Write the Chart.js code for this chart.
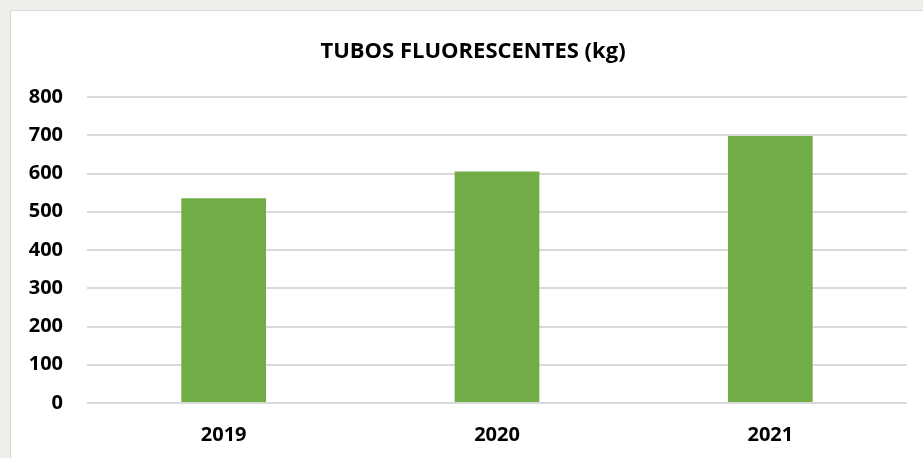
<!DOCTYPE html>
<html>
<head>
<meta charset="utf-8">
<script src="https://cdn.jsdelivr.net/npm/chart.js@4"></script>
<style>
  html, body { margin: 0; padding: 0; }
  body { width: 923px; height: 458px; background: #eeeeea; position: relative; overflow: hidden; }
  #box { position: absolute; left: 10px; top: 10px; width: 920px; height: 460px; background: #fff; border: 1px solid #d9d9d9; }
  #wrap { position: absolute; left: 0; top: 0; width: 923px; height: 458px; }
</style>
</head>
<body>
<div id="box"></div>
<div id="wrap"><canvas id="tubosChart"></canvas></div>
<script>
// datos del gráfico
const years = ['2019', '2020', '2021'];
const kilos = [535, 605, 698];
const yTicks = [0, 100, 200, 300, 400, 500, 600, 700, 800];

// el título de Excel se centra en un cuadro algo más ancho que la ventana
const titleShift = {
  id: 'titleShift',
  afterLayout(chart) {
    if (chart.titleBlock) chart.titleBlock.left = 39;
  }
};

const ctx = document.getElementById('tubosChart').getContext('2d');

new Chart(ctx, {
  type: 'bar',
  data: {
    labels: years,
    datasets: [{
      label: 'kg',
      data: kilos,
      backgroundColor: '#70ad47',
      borderWidth: 0,
      categoryPercentage: 1,
      barPercentage: 0.31
    }]
  },
  options: {
    responsive: true,
    maintainAspectRatio: false,
    animation: false,
    layout: {
      padding: { top: 10, right: 16, left: 0, bottom: 0 }
    },
    plugins: {
      legend: { display: false },
      tooltip: { enabled: false },
      title: {
        display: true,
        text: 'TUBOS FLUORESCENTES (kg)',
        color: '#000',
        font: { family: 'Open Sans', size: 22, weight: 'bold', lineHeight: 1.2 },
        padding: { top: 29, bottom: 31.6 }
      }
    },
    scales: {
      x: {
        grid: { display: false, drawTicks: false },
        border: { display: false },
        ticks: {
          color: '#000',
          padding: 20,
          font: { family: 'Open Sans', size: 20, weight: 'bold' }
        },
        afterFit: function (scale) { scale.height = 55; }
      },
      y: {
        min: 0,
        max: 800,
        afterBuildTicks: function (scale) {
          scale.ticks = yTicks.map(v => ({ value: v }));
        },
        grid: { color: '#d9d9d9', lineWidth: 2, drawTicks: false },
        border: { display: false },
        ticks: {
          color: '#000',
          padding: 24,
          font: { family: 'Open Sans', size: 20, weight: 'bold' }
        },
        afterFit: function (scale) { scale.width = 87; }
      }
    }
  },
  plugins: [titleShift]
});
</script>
</body>
</html>
